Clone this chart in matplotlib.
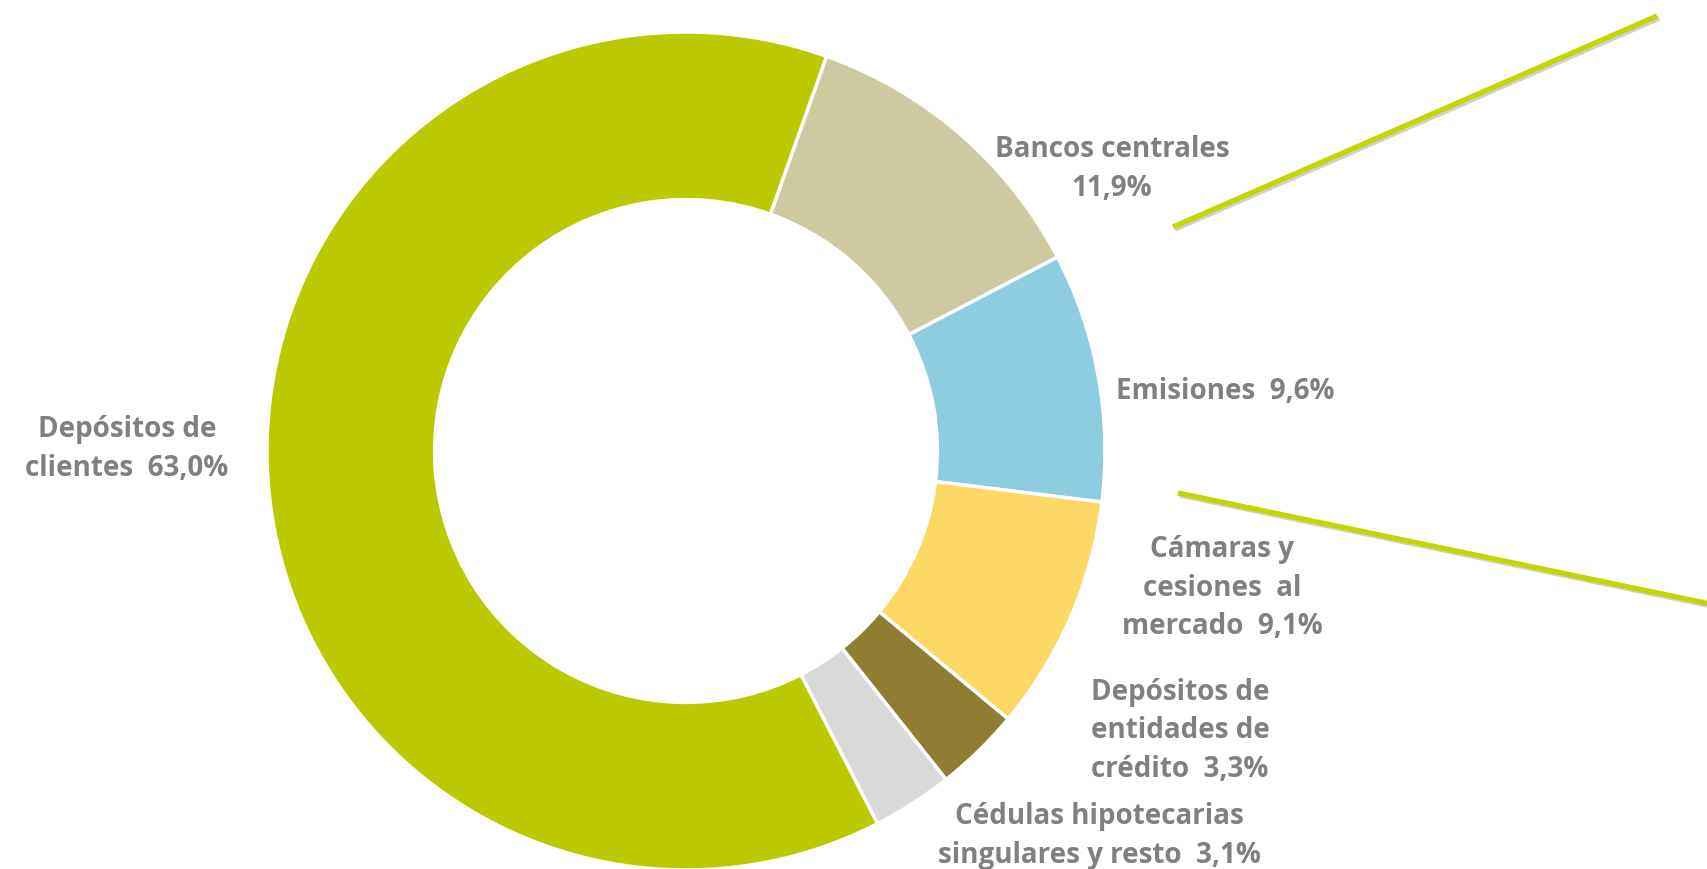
import matplotlib.pyplot as plt
from matplotlib.lines import Line2D
import matplotlib.patheffects as pe

plt.rcParams['font.family'] = ['Open Sans', 'DejaVu Sans']

# funding structure, clockwise from the top
labels = ['Bancos centrales', 'Emisiones', 'Cámaras y cesiones al mercado',
          'Depósitos de entidades de crédito', 'Cédulas hipotecarias singulares y resto',
          'Depósitos de clientes']
values = [11.9, 9.6, 9.1, 3.3, 3.1, 63.0]
colors = ['#CEC9A1', '#8DCDE0', '#FDD866', '#8F7E32', '#D9D9D9', '#BBC900']

# label text (value appended below) and its position in pixels from top-left
label_text = ['Bancos centrales\n{}', 'Emisiones  {}', 'Cámaras y\ncesiones  al\nmercado  {}',
              'Depósitos de\nentidades de\ncrédito  {}', 'Cédulas hipotecarias\nsingulares y resto  {}',
              'Depósitos de\nclientes  {}']
label_pos = [(1112, 169), (1116, 392), (1222, 588), (1180, 731), (1099, 836), (127, 449)]
label_ha = ['center', 'left', 'center', 'center', 'center', 'center']

W, H = 1708, 870
fig = plt.figure(figsize=(W / 100, H / 100), dpi=100)

cx, cy, r = 686, 452, 419
ax = fig.add_axes([(cx - r) / W, (H - cy - r) / H, 2 * r / W, 2 * r / H])
ax.pie(values, colors=colors, startangle=70.4, counterclock=False, radius=1,
       wedgeprops=dict(width=0.40, edgecolor='white', linewidth=2.5))
ax.set_xlim(-1, 1)
ax.set_ylim(-1, 1)
ax.set_aspect('equal')
ax.axis('off')

for txt, v, (px, py), ha in zip(label_text, values, label_pos, label_ha):
    fig.text(px / W, 1 - py / H, txt.format(f'{v:.1f}%'.replace('.', ',')),
             ha=ha, va='center', multialignment='center', fontsize=20,
             fontweight='bold', color='#808080', linespacing=1.42)

# callout lines towards the right
shadow = [pe.SimpleLineShadow(offset=(1.5, -1.5), shadow_color='#999999', alpha=0.45), pe.Normal()]
for (x0, y0), (x1, y1) in [((1173, 228), (1657, 17)), ((1178, 494), (1715, 606))]:
    fig.add_artist(Line2D([x0 / W, x1 / W], [1 - y0 / H, 1 - y1 / H], color='#C5D500',
                          linewidth=3.8, solid_capstyle='butt', path_effects=shadow))

fig.savefig('out.png', dpi=100)
